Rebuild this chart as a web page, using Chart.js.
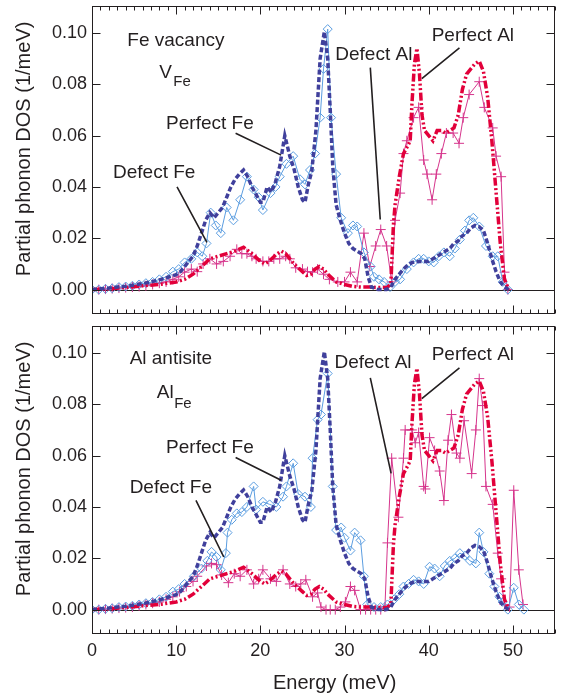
<!DOCTYPE html>
<html>
<head>
<meta charset="utf-8">
<script src="https://cdn.jsdelivr.net/npm/chart.js@4"></script>
<style>
  body { margin: 0; background: #fff; }
  canvas { position: absolute; left: 0; }
  #top { top: 0; }
  #bottom { top: 320px; }
</style>
</head>
<body>
<canvas id="top" width="561" height="320"></canvas>
<canvas id="bottom" width="561" height="373"></canvas>
<script>
// Tick labels
const xTicks = [0, 10, 20, 30, 40, 50];
const yTicks = [0, 0.02, 0.04, 0.06, 0.08, 0.10];

// Perfect crystal, Fe partial DOS (same in both panels)
const perfFeEnergy = [
  0, 1, 2, 3, 4, 5, 6, 7, 8, 9,
  10, 10.5, 11, 11.5, 12, 12.5, 13, 13.5, 14, 14.5,
  15, 15.5, 16, 16.5, 17, 17.5, 18, 18.5, 19, 19.5,
  20, 20.3, 20.8, 21.3, 21.8, 22.3, 22.9, 23.5, 24, 24.5,
  25, 25.3, 25.7, 26.1, 26.6, 27.1, 27.6, 28, 28.3, 28.6,
  29, 29.5, 30, 30.5, 31, 31.5, 32, 32.4, 32.8, 33.2,
  34, 35, 35.5, 36, 36.5, 37, 37.5, 38, 38.5, 39,
  39.5, 40, 40.5, 41, 41.5, 42, 42.5, 43, 43.5, 44,
  44.5, 45, 45.5, 46, 46.5, 47, 47.5, 48, 48.5, 49,
  49.5
];
const perfFeDos = [
  0, 0.0003, 0.0006, 0.001, 0.0013, 0.0018, 0.0023, 0.003, 0.0038, 0.0048,
  0.0058, 0.007, 0.009, 0.011, 0.013, 0.017, 0.022, 0.027, 0.030, 0.028,
  0.030, 0.032, 0.036, 0.040, 0.043, 0.045, 0.0466, 0.044, 0.040, 0.037,
  0.034, 0.034, 0.040, 0.038, 0.042, 0.048, 0.060, 0.052, 0.047, 0.040,
  0.035, 0.034, 0.041, 0.046, 0.062, 0.090, 0.1005, 0.090, 0.070, 0.048,
  0.033, 0.027, 0.022, 0.018, 0.016, 0.015, 0.014, 0.012, 0.005, 0.001,
  0, 0, 0.001, 0.004, 0.006, 0.008, 0.0095, 0.0105, 0.011, 0.011,
  0.011, 0.011, 0.012, 0.013, 0.014, 0.015, 0.016, 0.018, 0.019, 0.021,
  0.022, 0.024, 0.025, 0.0245, 0.023, 0.018, 0.012, 0.007, 0.003, 0.001,
  0
];

// Perfect crystal, Al partial DOS
const perfAlEnergy = [
  0, 2, 4, 6, 8, 10, 11, 12, 13, 14,
  15, 16, 17, 18, 19, 20, 20.5, 21, 22, 22.5,
  23, 24, 25, 25.5, 26, 26.5, 27, 27.5, 28, 29,
  30, 31, 32, 33, 34, 35, 35.5, 35.8, 36, 36.5,
  37, 37.5, 37.8, 38, 38.3, 38.6, 38.9, 39.2, 39.5, 40,
  40.5, 41, 41.5, 42, 42.5, 43, 43.5, 44, 44.5, 45,
  45.5, 46, 46.5, 47, 47.5, 48, 48.5, 49, 49.5
];
const perfAlDos = [
  0, 0.0003, 0.0008, 0.0015, 0.002, 0.003, 0.004, 0.006, 0.009, 0.012,
  0.013, 0.014, 0.015, 0.0165, 0.014, 0.011, 0.010, 0.011, 0.014, 0.015,
  0.014, 0.010, 0.007, 0.0055, 0.006, 0.008, 0.009, 0.008, 0.006, 0.003,
  0.002, 0.0012, 0.001, 0.001, 0.0008, 0.0008, 0.002, 0.025, 0.033, 0.044,
  0.053, 0.056, 0.058, 0.072, 0.088, 0.094, 0.084, 0.068, 0.062, 0.060,
  0.058, 0.062, 0.062, 0.061, 0.062, 0.063, 0.068, 0.078, 0.084, 0.086,
  0.088, 0.089, 0.085, 0.075, 0.058, 0.038, 0.018, 0.004, 0
];

// Fe vacancy: defect Fe
const vacFeEnergy = [
  0, 0.8, 1.6, 2.4, 3.2, 4, 4.8, 5.6, 6.4, 7.2,
  8, 8.8, 9.6, 10.3, 11, 11.8, 12.5, 13.1, 13.6, 14.1,
  14.7, 15.3, 16, 16.8, 17.6, 18.4, 19.2, 19.8, 20.3, 21.2,
  21.8, 22.3, 23.1, 23.9, 24.7, 25.3, 25.9, 26.5, 27.1, 27.5,
  28, 28.4, 29, 29.6, 30.4, 31, 31.5, 32.3, 33.1, 33.5,
  34.1, 34.7, 35.4, 36, 36.6, 37.4, 38.2, 38.8, 39.4, 40,
  40.6, 41.2, 41.8, 42.5, 43.1, 43.7, 44.3, 44.8, 45.3, 46,
  46.8, 47.6, 48.2, 48.8, 49.4
];
const vacFeDos = [
  0, 0, 0.0003, 0.0005, 0.001, 0.0012, 0.0015, 0.002, 0.0025, 0.003,
  0.004, 0.005, 0.007, 0.008, 0.0106, 0.012, 0.0145, 0.013, 0.018, 0.030,
  0.025, 0.022, 0.032, 0.027, 0.035, 0.044, 0.039, 0.036, 0.031, 0.0376,
  0.040, 0.044, 0.049, 0.052, 0.043, 0.041, 0.0466, 0.053, 0.067, 0.086,
  0.1015, 0.067, 0.045, 0.028, 0.022, 0.025, 0.0246, 0.0145, 0.009, 0.005,
  0.004, 0.003, 0.001, 0.003, 0.004, 0.008, 0.0106, 0.012, 0.012, 0.011,
  0.0106, 0.013, 0.0145, 0.013, 0.016, 0.0195, 0.023, 0.027, 0.028, 0.0246,
  0.017, 0.013, 0.013, 0.003, 0
];

// Fe vacancy: defect Al
const vacAlEnergy = [
  0, 0.8, 1.6, 2.4, 3.2, 4, 4.8, 5.6, 6.4, 7.2,
  8, 8.8, 9.6, 10.3, 11, 11.8, 12.5, 13.2, 14, 14.8,
  15.6, 16.4, 17.2, 17.8, 18.4, 19, 19.5, 20.3, 21, 21.6,
  22.3, 23, 23.5, 24.2, 25, 25.6, 26.2, 26.8, 27.5, 28.2,
  29.2, 30, 30.7, 31.5, 32.3, 33, 33.7, 34.3, 35, 35.6,
  36, 36.6, 37, 37.4, 38.2, 38.8, 39.4, 39.8, 40.4, 40.9,
  41.5, 42.1, 42.9, 43.6, 44.1, 44.8, 46, 46.6, 47.6, 48,
  48.6, 49, 49.4
];
const vacAlDos = [
  0, 0, 0.0002, 0.0004, 0.0006, 0.0008, 0.001, 0.0012, 0.0015, 0.002,
  0.0025, 0.003, 0.004, 0.005, 0.0068, 0.008, 0.007, 0.010, 0.012, 0.010,
  0.011, 0.013, 0.0157, 0.014, 0.014, 0.013, 0.012, 0.011, 0.011, 0.012,
  0.012, 0.013, 0.012, 0.0085, 0.008, 0.007, 0.0068, 0.008, 0.006, 0.004,
  0.003, 0.003, 0.0068, 0.003, 0.022, 0.009, 0.017, 0.0234, 0.017, 0.003,
  0.027, 0.0376, 0.053, 0.058, 0.067, 0.071, 0.0505, 0.045, 0.035, 0.045,
  0.053, 0.061, 0.061, 0.057, 0.067, 0.076, 0.081, 0.071, 0.063, 0.052,
  0.044, 0.0068, 0
];

// Al antisite: defect Fe
const antiFeEnergy = [
  0, 0.8, 1.6, 2.4, 3.2, 4, 4.8, 5.6, 6.4, 7.2,
  8, 8.8, 9.6, 10.3, 11, 12.1, 13, 13.7, 14.2, 14.8,
  15.3, 15.9, 16.1, 16.6, 17.2, 17.8, 18.4, 19.2, 19.5, 20.3,
  21.1, 21.9, 22.7, 23.1, 23.9, 24.5, 25.3, 26, 26.2, 26.8,
  27.2, 28, 28.6, 29, 29.6, 30, 30.7, 31.2, 31.9, 32.3,
  32.7, 33.5, 34.3, 35.1, 35.9, 36.5, 37, 37.6, 38.2, 38.8,
  39.4, 40.1, 40.7, 41.3, 41.9, 42.5, 43.1, 43.7, 44.3, 44.9,
  45.6, 46, 46.5, 47.2, 47.8, 48.4, 48.8, 49.4, 50.1, 50.7,
  51.3
];
const antiFeDos = [
  0, 0, 0.0003, 0.0005, 0.001, 0.0012, 0.0015, 0.002, 0.0025, 0.003,
  0.004, 0.005, 0.007, 0.008, 0.010, 0.013, 0.016, 0.019, 0.0225, 0.0205,
  0.0155, 0.022, 0.030, 0.035, 0.0375, 0.038, 0.040, 0.048, 0.039, 0.042,
  0.041, 0.040, 0.044, 0.048, 0.057, 0.045, 0.044, 0.040, 0.059, 0.074,
  0.076, 0.092, 0.048, 0.031, 0.032, 0.028, 0.023, 0.030, 0.027, 0.013,
  0.002, 0.001, 0.001, 0.002, 0.004, 0.006, 0.009, 0.010, 0.0116, 0.011,
  0.010, 0.0167, 0.016, 0.013, 0.017, 0.019, 0.020, 0.022, 0.021, 0.019,
  0.018, 0.030, 0.0225, 0.014, 0.009, 0.005, 0.003, 0, 0.0085, 0.002,
  0
];

// Al antisite: defect Al
const antiAlEnergy = [
  0, 0.8, 1.6, 2.4, 3.2, 4, 4.8, 5.6, 6.4, 7.2,
  8, 8.8, 9.6, 10.4, 11.2, 12, 12.5, 13.6, 14.2, 14.8,
  15.4, 16.2, 16.9, 17.6, 18.4, 19.2, 19.8, 20.3, 21.2, 21.9,
  22.7, 23.5, 24.2, 24.8, 25.4, 26.2, 26.8, 27.2, 27.8, 28.3,
  28.9, 29.5, 30.1, 30.7, 31.2, 31.9, 32.5, 33.1, 33.7, 34.3,
  34.8, 35.1, 35.6, 36.4, 37, 37.2, 38, 38.4, 38.8, 39.4,
  39.6, 40.1, 40.7, 41.3, 41.8, 42.3, 42.7, 43.3, 43.7, 44.2,
  45.1, 45.6, 46, 46.4, 46.8, 47.6, 48.2, 48.6, 49, 49.6,
  50.1, 50.7, 51.2
];
const antiAlDos = [
  0, 0, 0.0002, 0.0004, 0.0006, 0.0008, 0.001, 0.0015, 0.002, 0.0025,
  0.003, 0.004, 0.005, 0.007, 0.009, 0.011, 0.013, 0.017, 0.018, 0.0175,
  0.0135, 0.0105, 0.014, 0.013, 0.0155, 0.010, 0.012, 0.0155, 0.012, 0.011,
  0.0155, 0.010, 0.009, 0.010, 0.0116, 0.005, 0.0065, 0.001, 0, 0,
  0, 0.001, 0.003, 0.009, 0.0075, 0, 0, 0, 0, 0,
  0.001, 0.026, 0.059, 0.036, 0.059, 0.070, 0.070, 0.065, 0.069, 0.048,
  0.047, 0.067, 0.062, 0.054, 0.0425, 0.066, 0.076, 0.061, 0.059, 0.0736,
  0.053, 0.070, 0.090, 0.0795, 0.048, 0.041, 0.022, 0.012, 0.002, 0.001,
  0.0465, 0.0155, 0.002
];

const INK = '#231f20';
const FONT = '"Liberation Sans", Arial, sans-serif';
const NAVY = '#40409c';
const SKY = '#5b9de0';
const RED = '#e2003a';
const PINK = '#d6358c';

// Labels and leader lines, in data units (energy, DOS)
const vacNotes = [
  { text: 'Fe vacancy', e: 4.2, dos: 0.097 },
  { text: 'V', e: 8.0, dos: 0.0845 },
  { text: 'Fe', e: 9.65, dos: 0.0810, size: 15 },
  { text: 'Perfect Fe', e: 8.8, dos: 0.0648 },
  { text: 'Defect Fe', e: 2.5, dos: 0.0455 },
  { text: 'Defect Al', e: 28.9, dos: 0.0915 },
  { text: 'Perfect Al', e: 40.35, dos: 0.099 }
];
const vacLeaders = [
  [17.06, 0.0609, 22.47, 0.0524],
  [10.1, 0.040, 13.65, 0.0184],
  [33.06, 0.0865, 34.24, 0.0273],
  [43.65, 0.0942, 39.18, 0.0822]
];
const antiNotes = [
  { text: 'Al antisite', e: 4.47, dos: 0.0977 },
  { text: 'Al', e: 7.7, dos: 0.0845 },
  { text: 'Fe', e: 9.76, dos: 0.0802, size: 15 },
  { text: 'Perfect Fe', e: 8.8, dos: 0.0632 },
  { text: 'Defect Fe', e: 4.47, dos: 0.0473 },
  { text: 'Defect Al', e: 28.8, dos: 0.0961 },
  { text: 'Perfect Al', e: 40.35, dos: 0.0992 }
];
const antiLeaders = [
  [17.06, 0.0593, 22.47, 0.0504],
  [12.35, 0.0426, 15.65, 0.0205],
  [33.06, 0.0903, 35.53, 0.0531],
  [43.65, 0.0942, 39.18, 0.0822]
];

function pts(es, ds) {
  return es.map((e, i) => ({ x: e, y: ds[i] }));
}

// frame, inward ticks, zero line and the text labels
const framePlugin = {
  id: 'frame',
  beforeDatasetsDraw(chart) {
    const { ctx, chartArea: a } = chart;
    const y0 = Math.round(chart.scales.y.getPixelForValue(0)) + 0.5;
    ctx.save();
    ctx.strokeStyle = INK;
    ctx.lineWidth = 1;
    ctx.beginPath();
    ctx.moveTo(a.left, y0);
    ctx.lineTo(a.right, y0);
    ctx.stroke();
    ctx.restore();
  },
  afterDraw(chart, args, opts) {
    const { ctx, chartArea: a, scales: { x, y } } = chart;
    ctx.save();
    ctx.strokeStyle = INK;
    ctx.lineWidth = 1;
    const l = Math.round(a.left) + 0.5, r = Math.round(a.right) - 0.5;
    const t = Math.round(a.top) + 0.5, b = Math.round(a.bottom) - 0.5;
    ctx.strokeRect(l, t, r - l, b - t);
    ctx.beginPath();
    for (let e = 0; e <= 55; e++) {
      const px = Math.round(x.getPixelForValue(e)) + 0.5;
      const len = e % 10 === 0 ? 8 : 4;
      ctx.moveTo(px, b); ctx.lineTo(px, b - len);
      ctx.moveTo(px, t); ctx.lineTo(px, t + len);
    }
    yTicks.forEach(v => {
      const py = Math.round(y.getPixelForValue(v)) + 0.5;
      ctx.moveTo(l, py); ctx.lineTo(l + 8, py);
      ctx.moveTo(r, py); ctx.lineTo(r - 8, py);
    });
    ctx.stroke();

    ctx.lineWidth = 1.6;
    ctx.beginPath();
    opts.leaders.forEach(s => {
      ctx.moveTo(x.getPixelForValue(s[0]), y.getPixelForValue(s[1]));
      ctx.lineTo(x.getPixelForValue(s[2]), y.getPixelForValue(s[3]));
    });
    ctx.stroke();

    ctx.fillStyle = INK;
    ctx.textAlign = 'left';
    ctx.textBaseline = 'middle';
    opts.notes.forEach(n => {
      ctx.font = (n.size || 19) + 'px ' + FONT;
      ctx.fillText(n.text, x.getPixelForValue(n.e), y.getPixelForValue(n.dos));
    });
    ctx.restore();
  }
};

function makeDatasets(feE, feD, alE, alD) {
  return [
    { data: pts(perfFeEnergy, perfFeDos), borderColor: NAVY, borderWidth: 3.5,
      borderDash: [5, 2.5], pointRadius: 0 },
    { data: pts(perfAlEnergy, perfAlDos), borderColor: RED, borderWidth: 3.5,
      borderDash: [8, 2.5, 2, 2.5, 2, 2.5], pointRadius: 0 },
    { data: pts(feE, feD), borderColor: SKY, borderWidth: 1, pointStyle: 'rectRot',
      pointRadius: 4.5, pointBorderColor: SKY, pointBorderWidth: 1,
      pointBackgroundColor: 'rgba(0,0,0,0)' },
    { data: pts(alE, alD), borderColor: PINK, borderWidth: 1, pointStyle: 'cross',
      pointRadius: 5, pointBorderColor: PINK, pointBorderWidth: 1,
      pointBackgroundColor: 'rgba(0,0,0,0)' }
  ];
}

function makeOptions(showX, pad, notes, leaders) {
  const xScale = {
    type: 'linear', min: 0, max: 55, display: showX,
    afterBuildTicks: s => { s.ticks = xTicks.map(v => ({ value: v })); },
    grid: { display: false, drawTicks: false },
    border: { display: false },
    ticks: { padding: 6, color: INK, font: { family: FONT, size: 18 }, maxRotation: 0,
      callback: v => String(v) },
    title: { display: true, text: '    Energy (meV)', color: INK,
      font: { family: FONT, size: 20, lineHeight: 1 }, padding: { top: 0, bottom: 0 } }
  };
  if (showX) {
    xScale.afterFit = s => {
      s.height = 59;
      s.paddingLeft = 0;
      s.paddingRight = 0;
    };
  }
  return {
    responsive: false,
    devicePixelRatio: 1,
    animation: false,
    layout: { padding: pad },
    plugins: {
      legend: { display: false },
      tooltip: { enabled: false },
      frame: { notes: notes, leaders: leaders }
    },
    scales: {
      x: xScale,
      y: {
        min: -0.0095, max: 0.1105,
        afterBuildTicks: s => { s.ticks = yTicks.map(v => ({ value: v })); },
        afterFit: s => {
          s.width = 92;
          s.paddingTop = 0;
          s.paddingBottom = 0;
        },
        grid: { display: false, drawTicks: false },
        border: { display: false },
        ticks: { padding: 5, color: INK, font: { family: FONT, size: 18 },
          callback: v => v.toFixed(2) },
        title: { display: true, text: '    Partial phonon DOS (1/meV)', color: INK,
          font: { family: FONT, size: 20 }, padding: { top: 12, bottom: 0 } }
      }
    }
  };
}

new Chart(document.getElementById('top'), {
  type: 'line',
  data: { datasets: makeDatasets(vacFeEnergy, vacFeDos, vacAlEnergy, vacAlDos) },
  options: makeOptions(false, { top: 5, bottom: 5, left: 0, right: 4 }, vacNotes, vacLeaders),
  plugins: [framePlugin]
});

new Chart(document.getElementById('bottom'), {
  type: 'line',
  data: { datasets: makeDatasets(antiFeEnergy, antiFeDos, antiAlEnergy, antiAlDos) },
  options: makeOptions(true, { top: 4, bottom: 0, left: 0, right: 4 }, antiNotes, antiLeaders),
  plugins: [framePlugin]
});
</script>
</body>
</html>
